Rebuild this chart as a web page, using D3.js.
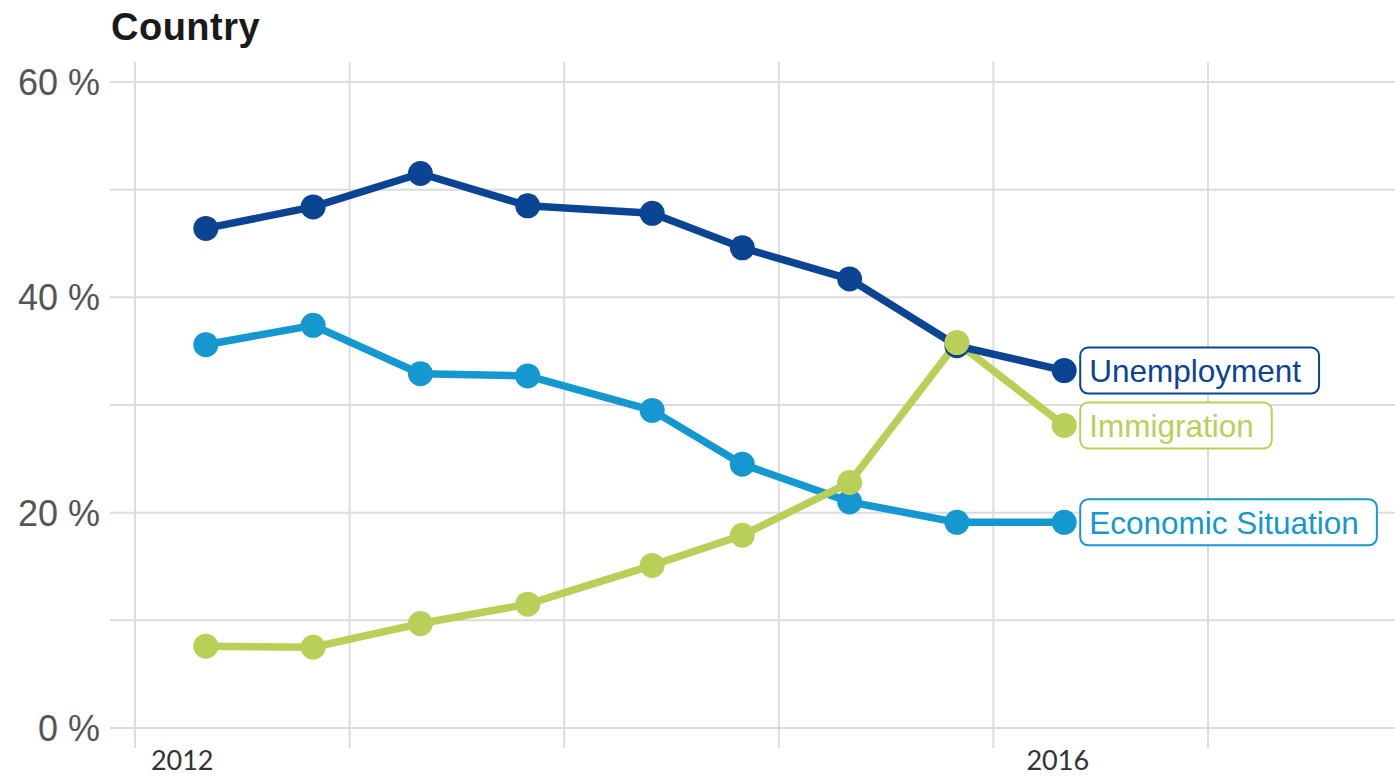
<!DOCTYPE html>
<html>
<head>
<meta charset="utf-8">
<script src="https://cdn.jsdelivr.net/npm/d3@7"></script>
<style>
  body { margin: 0; background: #fff; }
  svg { display: block; }
</style>
</head>
<body>
<div class="chart"></div>
<script>
// survey waves (decimal years, spring / autumn)
var waves = [2012.33, 2012.83, 2013.33, 2013.83, 2014.41, 2014.83, 2015.33, 2015.83, 2016.33];

var unemployment = [46.4, 48.4, 51.5, 48.5, 47.8, 44.6, 41.7, 35.5, 33.2];
var economic     = [35.6, 37.4, 32.9, 32.7, 29.5, 24.5, 21.0, 19.1, 19.1];
var immigration  = [7.6, 7.5, 9.7, 11.5, 15.1, 17.9, 22.8, 35.8, 28.1];

var seriesNames = ["Economic Situation", "Immigration", "Unemployment"];
var yTicks = [0, 20, 40, 60];
var yGrid = [0, 10, 20, 30, 40, 50, 60];
var xGrid = [2012, 2013, 2014, 2015, 2016, 2017];
var xTickLabels = ["2012", "2016"];
var xTickAt = [2012.22, 2016.3];

var svgWidth = 1395;
var svgHeight = 776;

var panel = { left: 110, right: 1395, top: 62, bottom: 748 };

var colors = {
  "Unemployment": "#0c4494",
  "Economic Situation": "#1598cf",
  "Immigration": "#b9d058"
};

var svg = d3.select(".chart")
  .append("svg")
  .attr("width", svgWidth)
  .attr("height", svgHeight);

var x = d3.scaleLinear()
  .domain([2012, 2017])
  .range([135, 1208]);

var y = d3.scaleLinear()
  .domain([0, 60])
  .range([728, 82]);

// gridlines
svg.append("g")
  .selectAll("line")
  .data(yGrid)
  .enter()
  .append("line")
  .attr("x1", panel.left)
  .attr("x2", panel.right)
  .attr("y1", d => y(d))
  .attr("y2", d => y(d))
  .attr("stroke", "#dcdcdc")
  .attr("stroke-width", 2);

svg.append("g")
  .selectAll("line")
  .data(xGrid)
  .enter()
  .append("line")
  .attr("x1", d => x(d))
  .attr("x2", d => x(d))
  .attr("y1", panel.top)
  .attr("y2", panel.bottom)
  .attr("stroke", "#dcdcdc")
  .attr("stroke-width", 2);

// y axis labels
svg.append("g")
  .selectAll("text")
  .data(yTicks)
  .enter()
  .append("text")
  .attr("x", 100)
  .attr("y", d => y(d))
  .attr("dy", "0.36em")
  .attr("text-anchor", "end")
  .attr("font-family", "Liberation Sans, Arial, sans-serif")
  .attr("font-size", "36px")
  .attr("fill", "#555")
  .text(d => d + " %");

// x axis labels
svg.append("g")
  .selectAll("text")
  .data(xTickLabels)
  .enter()
  .append("text")
  .attr("x", (d, i) => x(xTickAt[i]))
  .attr("y", 770)
  .attr("text-anchor", "middle")
  .attr("font-family", "Lato, sans-serif")
  .attr("font-size", "27px")
  .attr("fill", "#333")
  .text(d => d);

// title
svg.append("text")
  .attr("x", 111)
  .attr("y", 40)
  .attr("font-family", "Liberation Sans, Arial, sans-serif")
  .attr("font-weight", "bold")
  .attr("font-size", "38px")
  .attr("letter-spacing", "0.5px")
  .attr("fill", "#1a1a1a")
  .text("Country");

var series = [
  { name: "Economic Situation", values: economic },
  { name: "Immigration", values: immigration },
  { name: "Unemployment", values: unemployment }
];

var line = d3.line()
  .x((d, i) => x(waves[i]))
  .y(d => y(d));

series.forEach(s => {
  svg.append("path")
    .datum(s.values)
    .attr("d", line)
    .attr("fill", "none")
    .attr("stroke", colors[s.name])
    .attr("stroke-width", 7.5)
    .attr("stroke-linejoin", "round");
});

// points, unemployment first so immigration sits on top
[series[2], series[0], series[1]].forEach(s => {
  svg.append("g")
    .selectAll("circle")
    .data(s.values)
    .enter()
    .append("circle")
    .attr("cx", (d, i) => x(waves[i]))
    .attr("cy", d => y(d))
    .attr("r", 12.5)
    .attr("fill", colors[s.name]);
});

// end labels
var last = waves.length - 1;
series.forEach(s => {
  var g = svg.append("g");
  var lx = x(waves[last]) + 16;
  var ly = y(s.values[last]);
  var rect = g.append("rect");
  var txt = g.append("text")
    .attr("x", lx + 9)
    .attr("y", ly)
    .attr("dy", "0.36em")
    .attr("font-family", "Liberation Sans, Arial, sans-serif")
    .attr("font-size", "31.5px")
    .attr("fill", colors[s.name])
    .text(s.name);
  var w = txt.node().getComputedTextLength();
  rect.attr("x", lx)
    .attr("y", ly - 23)
    .attr("width", w + 27)
    .attr("height", 46)
    .attr("rx", 8)
    .attr("fill", "#fff")
    .attr("stroke", colors[s.name])
    .attr("stroke-width", 2);
});
</script>
</body>
</html>
